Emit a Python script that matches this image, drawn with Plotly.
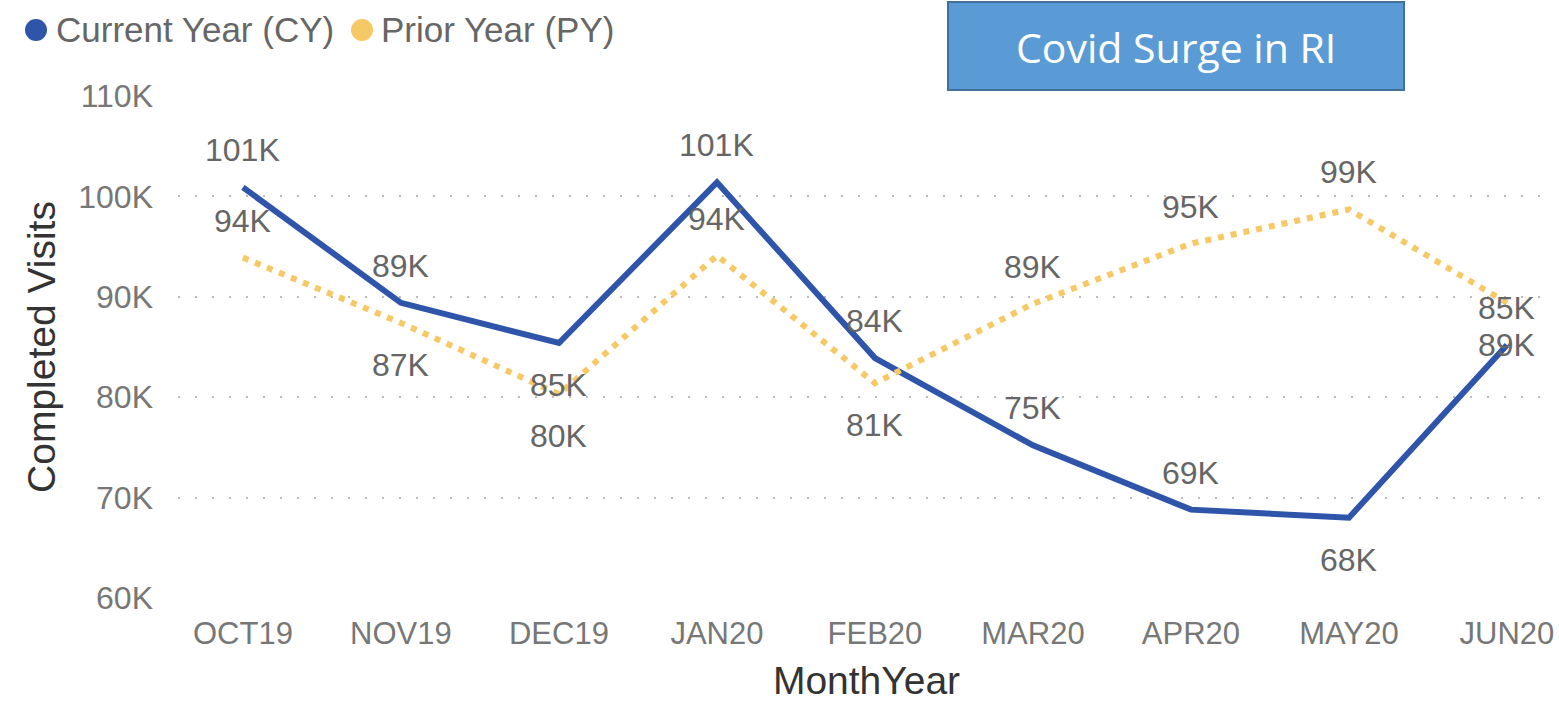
import plotly.graph_objects as go

months = ["OCT19", "NOV19", "DEC19", "JAN20", "FEB20", "MAR20", "APR20", "MAY20", "JUN20"]
cy_values = [100900, 89400, 85400, 101400, 83900, 75200, 68800, 68000, 85200]
py_values = [93900, 87400, 80300, 94100, 81400, 89300, 95300, 98700, 89400]
cy_label_side = ["above", "above", "below", "above", "above", "above", "above", "below", "above"]
py_label_side = ["above", "below", "below", "above", "below", "above", "above", "above", "below"]
y_ticks = [60000, 70000, 80000, 90000, 100000, 110000]
y_tick_labels = ["60K", "70K", "80K", "90K", "100K", "110K"]
series_names = ["Current Year (CY)", "Prior Year (PY)"]

CY_COLOR = "#2F55AB"
PY_COLOR = "#F6C966"
FONT = "Liberation Sans"
L, R, T, B = 178, 4, 96, 104
PW, PH = 1559 - L - R, 702 - T - B

def px_x(p):
    return (p - L) / PW

def px_y(p):
    return (702 - B - p) / PH

xs = list(range(len(months)))
fig = go.Figure()
fig.add_trace(go.Scatter(x=xs, y=cy_values, mode="lines", name=series_names[0], showlegend=False,
                         line=dict(color=CY_COLOR, width=6)))
fig.add_trace(go.Scatter(x=xs, y=py_values, mode="lines", name=series_names[1], showlegend=False,
                         line=dict(color=PY_COLOR, width=6, dash="6px,7px")))

def fmt(v):
    return f"{round(v/1000):.0f}K"

anns = []
for vals, sides in ((cy_values, cy_label_side), (py_values, py_label_side)):
    for i, (v, s) in enumerate(zip(vals, sides)):
        anns.append(dict(x=i, y=v, xref="x", yref="y", text=fmt(v), showarrow=False,
                         xanchor="center", yanchor="middle",
                         yshift=37 if s == "above" else -42,
                         font=dict(family=FONT, size=32, color="#666666")))

# legend drawn manually: circle markers + labels
legend_items = [(series_names[0], CY_COLOR, 36, 54), (series_names[1], PY_COLOR, 362, 379)]
shapes = []
for name, col, cx, tx in legend_items:
    shapes.append(dict(type="circle", xref="paper", yref="paper",
                       x0=px_x(cx - 11), x1=px_x(cx + 11), y0=px_y(30 + 11), y1=px_y(30 - 11),
                       fillcolor=col, line=dict(width=0)))
    anns.append(dict(x=px_x(tx), y=px_y(30), xref="paper", yref="paper", text=name,
                     showarrow=False, xanchor="left", yanchor="middle",
                     font=dict(family=FONT, size=35, color="#666666")))

shapes.append(dict(type="rect", xref="paper", yref="paper",
                   x0=px_x(948), x1=px_x(1404), y0=px_y(90), y1=px_y(2),
                   fillcolor="#5B9BD5", line=dict(color="#41719C", width=2), layer="above"))
anns.append(dict(x=px_x(1176), y=px_y(47), xref="paper", yref="paper",
                 xanchor="center", yanchor="middle",
                 text="Covid Surge in RI", showarrow=False,
                 font=dict(family="Open Sans", size=41, color="white")))

fig.update_layout(
    width=1559, height=702,
    margin=dict(l=L, r=R, t=T, b=B),
    paper_bgcolor="white", plot_bgcolor="white",
    showlegend=False,
    shapes=shapes,
    annotations=anns,
    xaxis=dict(tickmode="array", tickvals=xs, ticktext=months, automargin=False,
               range=[-0.411, 8.304], showgrid=False, zeroline=False, showline=False,
               tickfont=dict(family=FONT, size=31, color="#777777"), ticks="",
               ticklabelstandoff=14,
               title=dict(text="MonthYear", font=dict(family=FONT, size=39, color="#333333"), standoff=28)),
    yaxis=dict(tickmode="array", tickvals=y_ticks, ticktext=y_tick_labels, automargin=False,
               range=[60000, 110000], showgrid=True, gridcolor="#BBBBBB",
               griddash="2px,15px", gridwidth=2,
               zeroline=False, showline=False, ticks="", ticklabelstandoff=24,
               tickfont=dict(family=FONT, size=32, color="#777777"),
               title=dict(text="Completed Visits", font=dict(family=FONT, size=39, color="#333333"), standoff=10)),
)

fig.write_html("out.html")
